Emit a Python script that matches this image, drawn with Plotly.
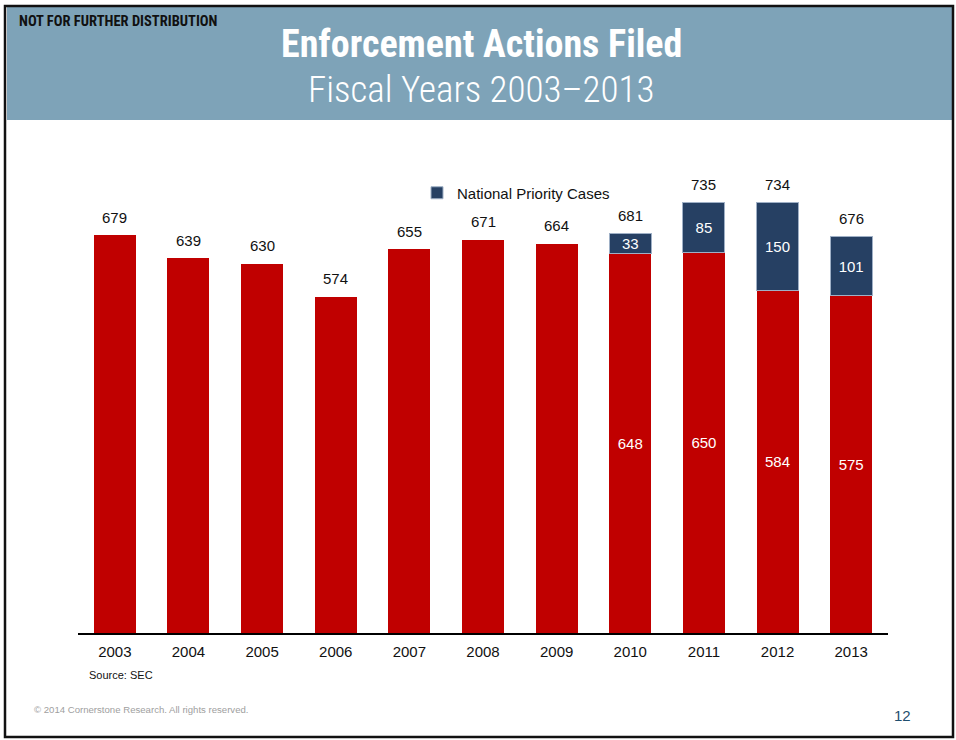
import plotly.graph_objects as go

# Enforcement actions filed by fiscal year
years = ["2003", "2004", "2005", "2006", "2007", "2008", "2009", "2010", "2011", "2012", "2013"]
other_cases = [679, 639, 630, 574, 655, 671, 664, 648, 650, 584, 575]
priority_cases = [None, None, None, None, None, None, None, 33, 85, 150, 101]
# inside labels only where the split is reported
split_years = ["2010", "2011", "2012", "2013"]

totals = [a + (b or 0) for a, b in zip(other_cases, priority_cases)]

W, H = 956, 740
ML, MR, MT, MB = 78, 68, 133, 107
PW, PH = W - ML - MR, H - MT - MB

RED = "#c00000"
NAVY = "#264063"
HEADER = "#7ea3b8"
BODY_FONT = "Liberation Sans, Arial, sans-serif"
NARROW_FONT = "Roboto Condensed, Liberation Sans Narrow, Arial Narrow, Liberation Sans, sans-serif"


def px(x):
    return (x - ML) / PW


def py(y):
    return (H - MB - y) / PH


red_text = [str(v) if y in split_years else "" for y, v in zip(years, other_cases)]
navy_text = [str(v) if v else "" for v in priority_cases]

fig = go.Figure()
fig.add_trace(go.Bar(
    x=years, y=other_cases, name="Other Cases", showlegend=False,
    marker=dict(color=RED, line=dict(width=0)),
    text=red_text, textposition="inside", insidetextanchor="middle", textangle=0,
    textfont=dict(color="white", size=15, family=BODY_FONT),
    constraintext="none", hoverinfo="skip",
))
fig.add_trace(go.Bar(
    x=years, y=priority_cases, name="National Priority Cases",
    marker=dict(color=NAVY, line=dict(width=1, color="#9fb0c6")),
    text=navy_text, textposition="inside", insidetextanchor="middle", textangle=0,
    textfont=dict(color="white", size=15, family=BODY_FONT),
    constraintext="none", hoverinfo="skip",
))

annotations = []
# totals above each bar (category index positions on the x axis)
for i, t in enumerate(totals):
    annotations.append(dict(
        x=i, y=t, xref="x", yref="y", text=str(t), showarrow=False,
        yanchor="middle", yshift=18,
        font=dict(size=15, color="#111111", family=BODY_FONT),
    ))

annotations += [
    dict(x=px(481), y=py(44), xref="paper", yref="paper", text="Enforcement Actions Filed",
         showarrow=False, xanchor="center", yanchor="middle",
         font=dict(size=38, color="white", family=NARROW_FONT, weight=700)),
    dict(x=px(481), y=py(90), xref="paper", yref="paper", text="Fiscal Years 2003–2013",
         showarrow=False, xanchor="center", yanchor="middle",
         font=dict(size=37, color="white", family=NARROW_FONT, weight=300)),
    dict(x=px(17), y=py(21), xref="paper", yref="paper", text="NOT FOR FURTHER DISTRIBUTION",
         showarrow=False, xanchor="left", yanchor="middle",
         font=dict(size=14.5, color="#111111", family=NARROW_FONT, weight=700)),
    dict(x=px(87), y=py(675), xref="paper", yref="paper", text="Source: SEC",
         showarrow=False, xanchor="left", yanchor="middle",
         font=dict(size=11, color="#111111", family=BODY_FONT)),
    dict(x=px(32), y=py(709), xref="paper", yref="paper",
         text="© 2014 Cornerstone Research. All rights reserved.",
         showarrow=False, xanchor="left", yanchor="middle",
         font=dict(size=9.6, color="#a0a0a0", family=BODY_FONT)),
    dict(x=px(913), y=py(715), xref="paper", yref="paper", text="12",
         showarrow=False, xanchor="right", yanchor="middle",
         font=dict(size=15, color="#1f4e6e", family=BODY_FONT)),
]

shapes = [
    # header band
    dict(type="rect", xref="paper", yref="paper", x0=px(7), x1=px(953), y0=py(120), y1=py(7),
         fillcolor=HEADER, line=dict(width=0), layer="below"),
    # slide frame
    dict(type="rect", xref="paper", yref="paper", x0=px(5), x1=px(953), y0=py(737), y1=py(6),
         fillcolor="rgba(0,0,0,0)", line=dict(width=2.5, color="#111111"), layer="above"),
]

fig.update_layout(
    width=W, height=H,
    margin=dict(l=ML, r=MR, t=MT, b=MB, pad=0),
    barmode="stack", bargap=0.43,
    plot_bgcolor="white", paper_bgcolor="white",
    font=dict(family=BODY_FONT, color="#111111"),
    xaxis=dict(type="category", range=[-0.5, 10.5], showline=True, linecolor="#000000",
               linewidth=2, ticks="", showgrid=False, zeroline=False, ticklabelstandoff=4,
               tickfont=dict(size=15, color="#111111", family=BODY_FONT)),
    yaxis=dict(range=[0, PH / (398 / 679)], showticklabels=False, ticks="", showline=False,
               showgrid=False, zeroline=False),
    legend=dict(x=px(417), y=py(193), xanchor="left", yanchor="middle", orientation="h",
                bgcolor="rgba(0,0,0,0)", font=dict(size=15, color="#111111", family=BODY_FONT),
                itemclick=False, itemdoubleclick=False),
    annotations=annotations,
    shapes=shapes,
)

fig.write_html("out.html", config={"displayModeBar": False})
